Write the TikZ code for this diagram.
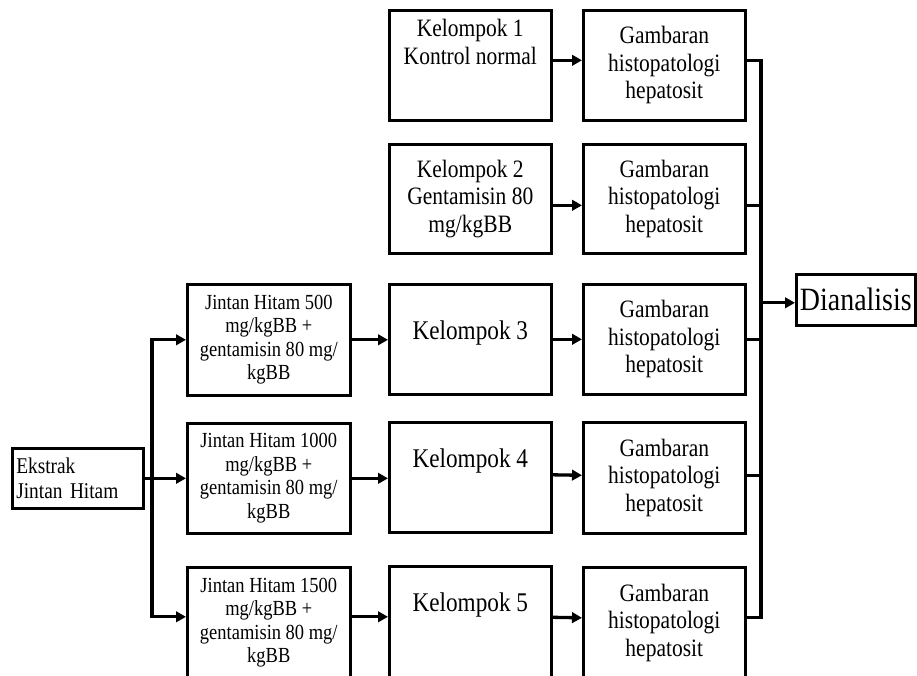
\documentclass[tikz,border=0pt]{standalone}
\usepackage{fontspec}
\setmainfont{Liberation Serif}[FakeStretch=0.86]
\usetikzlibrary{arrows.meta}
\newcommand{\fG}{\fontsize{25}{27.5}\selectfont}
\newcommand{\fK}{\fontsize{27}{29}\selectfont}
\newcommand{\fJ}{\fontsize{21.5}{23.5}\selectfont}
\newcommand{\fE}{\fontsize{22.5}{25}\selectfont}
\newcommand{\fD}{\fontsize{32.5}{34}\selectfont}
\begin{document}
\begin{tikzpicture}[x=1pt,y=-1pt,
  box/.style={draw, line width=2.6pt, anchor=north west, inner sep=0pt, align=center},
  lbl/.style={inner sep=0pt, align=center},
  conn/.style={line width=3.3pt},
  arr/.style={line width=3.3pt, -{Triangle[length=10pt,width=10.5pt]}},
  darr/.style={line width=3.3pt, {Triangle[length=10pt,width=10.5pt]}-{Triangle[length=10pt,width=10.5pt]}}
]
\path[use as bounding box, fill=white] (0,0) rectangle (917,675);

% left column
\node[box, minimum width=131pt, minimum height=60pt, text width=123pt, inner xsep=4pt, align=left, font=\fE] (ek) at (11,447) {Ekstrak\\Jintan Hitam};

\node[box, minimum width=163pt, minimum height=111pt, font=\fJ] (j1) at (186,283) {Jintan Hitam 500\\mg/kgBB +\\gentamisin 80 mg/\\kgBB};
\node[box, minimum width=163pt, minimum height=110pt, font=\fJ] (j2) at (186,422) {Jintan Hitam 1000\\mg/kgBB +\\gentamisin 80 mg/\\kgBB};
\node[box, minimum width=163pt, minimum height=111pt, font=\fJ] (j3) at (186,566) {Jintan Hitam 1500\\mg/kgBB +\\gentamisin 80 mg/\\kgBB};

% kelompok column
\node[box, minimum width=162pt, minimum height=110pt] (k1) at (388,9) {};
\node[lbl, font=\fG] (k1t) at ([yshift=-33pt]k1.north) {Kelompok 1\\Kontrol normal};
\node[box, minimum width=162pt, minimum height=109pt, font=\fG] (k2) at (388,143) {Kelompok 2\\Gentamisin 80\\mg/kgBB};
\node[box, minimum width=162pt, minimum height=110pt] (k3) at (388,283) {};
\node[lbl, font=\fK] (k3t) at ([yshift=-50pt]k3.north) {Kelompok 3};
\node[box, minimum width=162pt, minimum height=110pt] (k4) at (388,421) {};
\node[lbl, font=\fK] (k4t) at ([yshift=-40pt]k4.north) {Kelompok 4};
\node[box, minimum width=162pt, minimum height=112pt] (k5) at (388,565) {};
\node[lbl, font=\fK] (k5t) at ([yshift=-40pt]k5.north) {Kelompok 5};

% gambaran column
\node[box, minimum width=162pt, minimum height=110pt, font=\fG] (g1) at (582,9) {Gambaran\\histopatologi\\hepatosit};
\node[box, minimum width=162pt, minimum height=109pt, font=\fG] (g2) at (582,143) {Gambaran\\histopatologi\\hepatosit};
\node[box, minimum width=162pt, minimum height=110pt, font=\fG] (g3) at (582,283) {Gambaran\\histopatologi\\hepatosit};
\node[box, minimum width=162pt, minimum height=111pt, font=\fG] (g4) at (582,421) {Gambaran\\histopatologi\\hepatosit};
\node[box, minimum width=162pt, minimum height=111pt, font=\fG] (g5) at (582,566) {Gambaran\\histopatologi\\hepatosit};

\node[box, minimum width=119pt, minimum height=51pt, font=\fD] (d) at (795,273) {Dianalisis};

% branch from Ekstrak
\coordinate (br) at (152,477);
\coordinate (cx) at (761,300);
\draw[arr] (ek.east) -- (j2.west);
\draw[darr] (j1.west) -- (j1.west -| br) -- ([yshift=6pt]j3.west -| br) -- ([yshift=6pt]j3.west);

% jintan -> kelompok
\draw[arr] (j1.east) -- (j1.east -| k3.west);
\draw[arr] (j2.east) -- (j2.east -| k4.west);
\draw[arr] ([yshift=6pt]j3.east) -- ([yshift=6pt]j3.east -| k5.west);

% kelompok -> gambaran
\draw[arr] ([yshift=5pt]k1.east) -- ([yshift=5pt]g1.west);
\draw[arr] ([yshift=-6.5pt]k2.east) -- ([yshift=-6.5pt]g2.west);
\draw[arr] (k3.east) -- (g3.west);
\draw[arr] ([yshift=2.5pt]k4.east) -- ([yshift=2.5pt]g4.west);
\draw[arr] ([yshift=5pt]k5.east) -- ([yshift=5pt]g5.west);

% collector
\draw[conn] ([yshift=5pt]g1.east) -- ([yshift=5pt]g1.east -| cx) -- ([yshift=5pt]g5.east -| cx) -- ([yshift=5pt]g5.east);
\draw[conn] ([yshift=-6.5pt]g2.east) -- ([yshift=-6.5pt]g2.east -| cx);
\draw[conn] (g3.east) -- (g3.east -| cx);
\draw[conn] ([yshift=2.5pt]g4.east) -- ([yshift=2.5pt]g4.east -| cx);
\draw[arr] ([yshift=-3pt]d.west -| cx) -- ([yshift=-3pt]d.west);
\end{tikzpicture}
\end{document}
